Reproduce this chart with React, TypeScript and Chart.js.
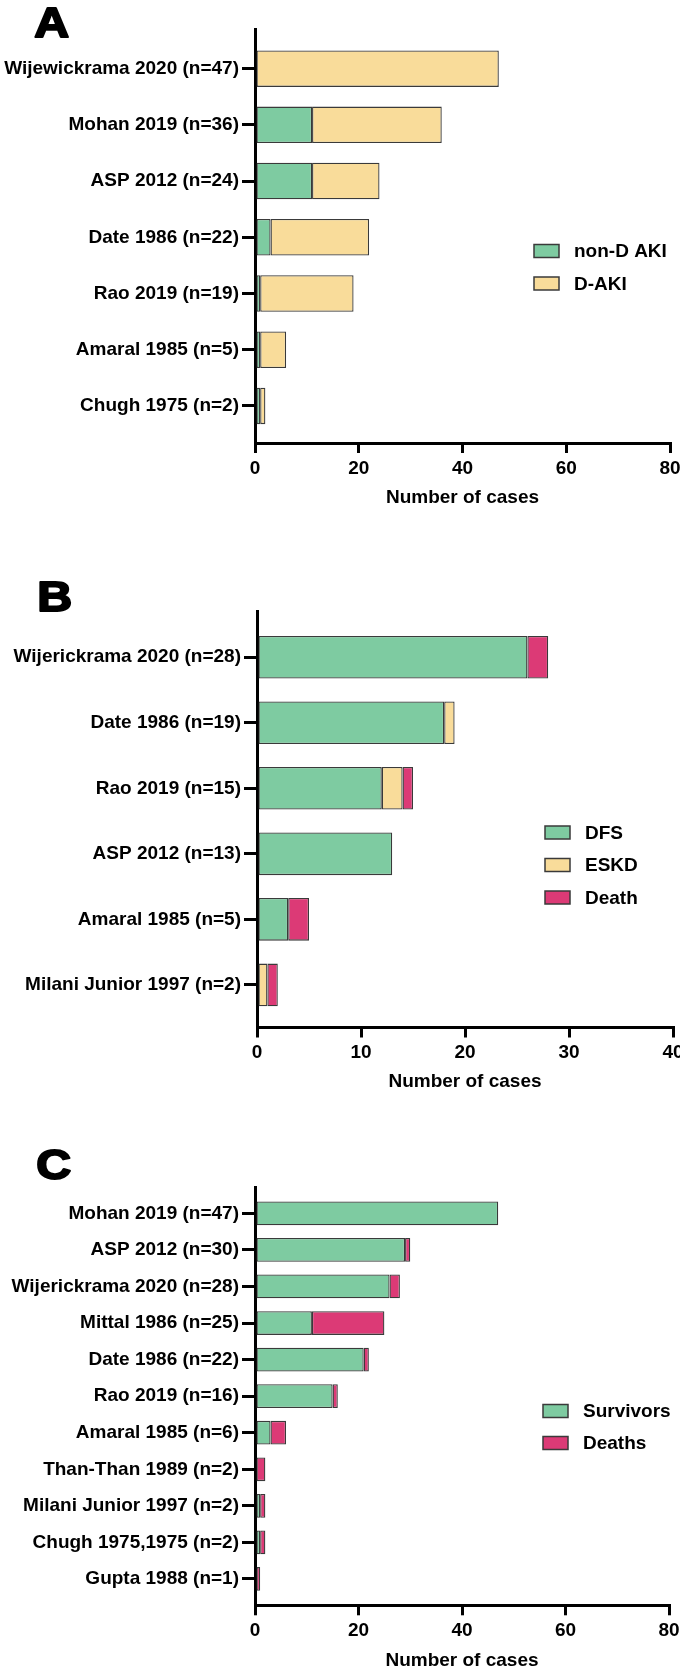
import React, { useEffect, useRef } from 'react';
import { Chart, registerables } from 'chart.js';

Chart.register(...registerables);

// ---------- Data ----------
const A_CATEGORIES = [
  'Wijewickrama 2020 (n=47)',
  'Mohan 2019 (n=36)',
  'ASP 2012 (n=24)',
  'Date 1986 (n=22)',
  'Rao 2019 (n=19)',
  'Amaral 1985 (n=5)',
  'Chugh 1975 (n=2)',
];
const A_NON_D_AKI = [0, 11, 11, 3, 1, 1, 1];
const A_D_AKI = [47, 25, 13, 19, 18, 5, 1];
const A_X_TICKS = [0, 20, 40, 60, 80];

const B_CATEGORIES = [
  'Wijerickrama 2020 (n=28)',
  'Date 1986 (n=19)',
  'Rao 2019 (n=15)',
  'ASP 2012 (n=13)',
  'Amaral 1985 (n=5)',
  'Milani Junior 1997 (n=2)',
];
const B_DFS = [26, 18, 12, 13, 3, 0];
const B_ESKD = [0, 1, 2, 0, 0, 1];
const B_DEATH = [2, 0, 1, 0, 2, 1];
const B_X_TICKS = [0, 10, 20, 30, 40];

const C_CATEGORIES = [
  'Mohan 2019 (n=47)',
  'ASP 2012 (n=30)',
  'Wijerickrama 2020 (n=28)',
  'Mittal 1986 (n=25)',
  'Date 1986 (n=22)',
  'Rao 2019 (n=16)',
  'Amaral 1985 (n=6)',
  'Than-Than 1989 (n=2)',
  'Milani Junior 1997 (n=2)',
  'Chugh 1975,1975 (n=2)',
  'Gupta 1988 (n=1)',
];
const C_SURVIVORS = [47, 29, 26, 11, 21, 15, 3, 0, 1, 1, 0];
const C_DEATHS = [0, 1, 2, 14, 1, 1, 3, 2, 1, 1, 1];
const C_X_TICKS = [0, 20, 40, 60, 80];

const X_TITLE = 'Number of cases';

// ---------- Styles ----------
const FONT = '"Liberation Sans", Arial, Helvetica, sans-serif';
const GREEN = '#7ECBA1';
const YELLOW = '#F9DC9A';
const PINK = '#DC3A76';
const EDGE = '#3a3a3a';
const FS = 19;

type Series = { label: string; values: number[]; color: string };
type Panel = {
  letter: string;
  top: number;
  height: number;
  chartTop: number;
  chartLeft: number;
  padRight: number;
  xAxisHeight: number;
  xMax: number;
  xTicks: number[];
  yMin: number;
  yMax: number;
  titlePad: number;
  categories: string[];
  series: Series[];
  letterX: number;
  letterY: number;
  legendBoxX: number;
  legendTextX: number;
  legendY: number;
  legendGap: number;
};

const PANELS: Panel[] = [
  {
    letter: 'A', top: 0, height: 540, chartTop: 29.3, chartLeft: 255, padRight: 10,
    xAxisHeight: 97, xMax: 80, xTicks: A_X_TICKS, yMin: -0.7, yMax: 6.66, titlePad: 30.6,
    categories: A_CATEGORIES,
    series: [
      { label: 'non-D AKI', values: A_NON_D_AKI, color: GREEN },
      { label: 'D-AKI', values: A_D_AKI, color: YELLOW },
    ],
    letterX: 33, letterY: 38, legendBoxX: 534, legendTextX: 574, legendY: 251, legendGap: 32.5,
  },
  {
    letter: 'B', top: 540, height: 570, chartTop: 71.7, chartLeft: 257, padRight: 7,
    xAxisHeight: 82.5, xMax: 40, xTicks: B_X_TICKS, yMin: -0.695, yMax: 5.65, titlePad: 16.9,
    categories: B_CATEGORIES,
    series: [
      { label: 'DFS', values: B_DFS, color: GREEN },
      { label: 'ESKD', values: B_ESKD, color: YELLOW },
      { label: 'Death', values: B_DEATH, color: PINK },
    ],
    letterX: 36, letterY: 72, legendBoxX: 545, legendTextX: 585, legendY: 292.5, legendGap: 32.5,
  },
  {
    letter: 'C', top: 1110, height: 557, chartTop: 77, chartLeft: 255, padRight: 11,
    xAxisHeight: 61.7, xMax: 80, xTicks: C_X_TICKS, yMin: -0.72, yMax: 10.72, titlePad: -5.4,
    categories: C_CATEGORIES,
    series: [
      { label: 'Survivors', values: C_SURVIVORS, color: GREEN },
      { label: 'Deaths', values: C_DEATHS, color: PINK },
    ],
    letterX: 35, letterY: 70, legendBoxX: 543, legendTextX: 583, legendY: 301, legendGap: 32,
  },
];

const decorPlugin = {
  id: 'panelDecor',
  afterDraw(chart: any, _args: any, opts: any) {
    const ctx = chart.ctx;
    ctx.save();
    // panel letter (heavy, slightly wide)
    ctx.save();
    ctx.translate(opts.letterX, opts.letterY);
    ctx.scale(1.15, 1);
    ctx.fillStyle = '#000';
    ctx.strokeStyle = '#000';
    ctx.lineWidth = 2;
    ctx.lineJoin = 'round';
    ctx.font = `bold 42px ${FONT}`;
    ctx.textAlign = 'left';
    ctx.textBaseline = 'alphabetic';
    ctx.fillText(opts.letter, 1, -1);
    ctx.strokeText(opts.letter, 1, -1);
    ctx.restore();
    // legend
    ctx.font = `bold ${FS}px ${FONT}`;
    ctx.textAlign = 'left';
    ctx.textBaseline = 'middle';
    chart.data.datasets.forEach((ds: any, i: number) => {
      const cy = opts.legendY + i * opts.legendGap;
      ctx.fillStyle = ds.backgroundColor;
      ctx.fillRect(opts.legendBoxX, cy - 6.5, 25, 13);
      ctx.strokeStyle = EDGE;
      ctx.lineWidth = 1.5;
      ctx.strokeRect(opts.legendBoxX, cy - 6.5, 25, 13);
      ctx.fillStyle = '#000';
      ctx.fillText(ds.label, opts.legendTextX, cy + 1);
    });
    ctx.restore();
  },
};

function makeConfig(p: Panel): any {
  const tickFont = { family: FONT, size: FS, weight: 'bold' as const };
  return {
    type: 'bar',
    data: {
      datasets: p.series.map((s) => ({
        label: s.label,
        data: s.values.map((v, i) => ({ x: v, y: i })),
        backgroundColor: s.color,
        borderColor: EDGE,
        borderWidth: 1.3,
        borderSkipped: false,
        categoryPercentage: 1,
        barPercentage: 0.65,
      })),
    },
    options: {
      indexAxis: 'y',
      responsive: false,
      animation: false,
      events: [],
      layout: { padding: { top: p.chartTop, right: p.padRight, bottom: 0, left: 0 } },
      plugins: {
        legend: { display: false },
        tooltip: { enabled: false },
        title: { display: false },
        panelDecor: {
          letter: p.letter, letterX: p.letterX, letterY: p.letterY,
          legendBoxX: p.legendBoxX, legendTextX: p.legendTextX,
          legendY: p.legendY, legendGap: p.legendGap,
        },
      },
      scales: {
        x: {
          type: 'linear',
          position: 'bottom',
          stacked: true,
          offset: false,
          min: 0,
          max: p.xMax,
          afterBuildTicks: (s: any) => {
            s.ticks = p.xTicks.map((v) => ({ value: v }));
          },
          afterFit: (s: any) => {
            s.height = p.xAxisHeight;
            s.paddingLeft = 0;
            s.paddingRight = 0;
          },
          grid: {
            display: true,
            offset: false,
            drawOnChartArea: false,
            drawTicks: true,
            tickLength: 10,
            tickWidth: 3,
            tickColor: '#000',
            color: '#000',
            lineWidth: 3,
          },
          border: { display: true, color: '#000', width: 3 },
          ticks: { font: tickFont, color: '#000', padding: 4, maxRotation: 0, autoSkip: false },
          title: {
            display: true,
            text: X_TITLE,
            font: tickFont,
            color: '#000',
            padding: { top: 0, bottom: p.titlePad },
          },
        },
        y: {
          type: 'linear',
          position: 'left',
          reverse: true,
          stacked: true,
          offset: false,
          min: p.yMin,
          max: p.yMax,
          afterBuildTicks: (s: any) => {
            s.ticks = p.categories.map((_, i) => ({ value: i }));
          },
          afterFit: (s: any) => {
            s.width = p.chartLeft;
            s.paddingTop = 0;
            s.paddingBottom = 0;
          },
          grid: {
            display: true,
            offset: false,
            drawOnChartArea: false,
            drawTicks: true,
            tickLength: 13,
            tickWidth: 3,
            tickColor: '#000',
            color: '#000',
            lineWidth: 3,
          },
          border: { display: true, color: '#000', width: 3 },
          ticks: {
            font: tickFont,
            color: '#000',
            padding: 3,
            autoSkip: false,
            callback: (v: any) => p.categories[v] ?? '',
          },
        },
      },
    },
    plugins: [decorPlugin],
  };
}

function PanelChart({ panel }: { panel: Panel }) {
  const ref = useRef<HTMLCanvasElement | null>(null);
  useEffect(() => {
    if (!ref.current) return;
    const chart = new Chart(ref.current, makeConfig(panel));
    return () => chart.destroy();
  }, [panel]);
  return (
    <canvas
      ref={ref}
      width={680}
      height={panel.height}
      style={{ position: 'absolute', left: 0, top: panel.top, width: 680, height: panel.height }}
    />
  );
}

export default function App() {
  return (
    <div
      style={{
        position: 'absolute',
        left: 0,
        top: 0,
        width: 680,
        height: 1667,
        background: '#fff',
        overflow: 'hidden',
      }}
    >
      {PANELS.map((p) => (
        <PanelChart key={p.letter} panel={p} />
      ))}
    </div>
  );
}
